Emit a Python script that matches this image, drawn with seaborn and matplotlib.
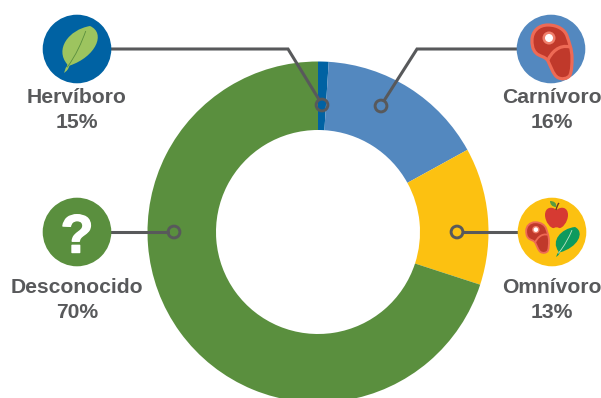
import matplotlib
matplotlib.use("Agg")
import matplotlib.pyplot as plt
import matplotlib.patheffects as pe
from matplotlib.patches import Circle, PathPatch
from matplotlib.path import Path
from matplotlib.transforms import Affine2D
import pandas as pd
import seaborn as sns

# Diet groups: share of the ring and the captions printed beside each icon
groups = ["Hervíboro", "Carnívoro", "Omnívoro", "Desconocido"]
shares = [1, 16, 13, 70]
captions = ["15%", "16%", "13%", "70%"]
colors = ["#0062A3", "#5388BF", "#FCC111", "#5A8F3E"]

GREY = "#58595B"
M, L, C, Z = Path.MOVETO, Path.LINETO, Path.CURVE4, Path.CLOSEPOLY

sns.set_theme(style="white")
plt.rcParams["font.family"] = ["Liberation Sans", "DejaVu Sans"]

fig = plt.figure(figsize=(6.01, 3.98), dpi=100, facecolor="white")
ax = fig.add_axes([0, 0, 1, 1])

# Donut, running clockwise from twelve o'clock (the y axis points down)
center = (318, 232)
wedges, _ = ax.pie(shares, colors=colors, center=center, radius=170.5,
                   startangle=-90, counterclock=True, frame=True,
                   wedgeprops={"width": 68.5, "linewidth": 0})
ax.set_xlim(0, 601)
ax.set_ylim(398, 0)
ax.set_aspect("equal")
ax.axis("off")


def shape(verts, codes, fc, ec="none", lw=0.0, tf=None, z=5):
    p = Path(verts, codes)
    if tf is not None:
        p = p.transformed(tf)
    ax.add_patch(PathPatch(p, facecolor=fc, edgecolor=ec, linewidth=lw, zorder=z))


def steak(cx, cy, s):
    """Cut of meat with marbling line; (cx, cy) is its middle in pixels."""
    tf = Affine2D().scale(s).translate(cx, cy)
    outline = [(-3, -25), (7, -25), (14, -20), (16, -14), (18, -8), (21, -1), (21, 8),
               (21, 14), (21, 20), (19, 25), (17, 29), (10, 30), (6, 27),
               (2, 24), (0, 17), (-3, 11), (-6, 6), (-11, 7), (-15, 3),
               (-19, -1), (-19, -6), (-19, -10), (-19, -18), (-13, -25), (-3, -25), (-3, -25)]
    codes = [M] + [C] * 24 + [Z]
    shape(outline, codes, "#C0392B", "#EE6A55", 2.3 * s, tf, 6)
    shape([(-3, 10), (0, 3), (8, -6), (19, -3)], [M, C, C, C], "none", "#EE6A55", 2.3 * s, tf, 7)
    dot = tf.transform((-2, -12))
    ax.add_patch(Circle(dot, 6.5 * s, fc="#F0806C", ec="none", zorder=7))
    ax.add_patch(Circle(dot, 4 * s, fc="white", ec="none", zorder=8))


def leaf(base, tip, fat, fc, vein):
    """Leaf drawn from stem foot to tip, given in pixels."""
    bx, by = base
    tx, ty = tip
    dx, dy = tx - bx, ty - by
    nx, ny = -dy, dx
    pt = lambda a, b: (bx + a * dx + b * nx * fat, by + a * dy + b * ny * fat)
    verts = [pt(0, 0), pt(.10, -.03), pt(.14, -.02), pt(.17, -.04),
             pt(.30, -.62), pt(.75, -.52), pt(1, 0),
             pt(1.03, .55), pt(.55, .62), pt(.17, .04),
             pt(.10, .05), pt(.06, .04), pt(0, 0), pt(0, 0)]
    shape(verts, [M, L, L, L, C, C, C, C, C, C, L, L, L, Z], fc, z=6)
    shape([pt(.12, 0), pt(.4, .06), pt(.65, .02), pt(.88, -.04)], [M, C, C, C],
          "none", vein, 0.6, z=7)


# Icon discs behind the leader ends
discs = [(77, 49), (551, 49), (552, 232), (77, 232)]

# Leader lines from each icon into the ring, ending on an open marker
leaders = [[(105, 49), (288, 49), (319, 99.5)],
           [(525, 49), (417, 49), (384.5, 100)],
           [(463, 232), (530, 232)],
           [(105, 232), (167.5, 232)]]
for pts in leaders:
    xs, ys = zip(*pts)
    ax.plot(xs, ys, color=GREY, lw=2.2, solid_joinstyle="miter", zorder=3)

rings = pd.DataFrame({"x": [322, 381, 457, 174], "y": [105, 106, 232, 232]})
sns.scatterplot(data=rings, x="x", y="y", s=72, facecolor="none", edgecolor=GREY,
                linewidth=2.1, ax=ax, zorder=4, legend=False)
ax.set_xlim(0, 601)
ax.set_ylim(398, 0)

for (x, y), col in zip(discs, colors):
    ax.add_patch(Circle((x, y), 34.3, fc=col, ec="none", zorder=5))

# Herbivore: a single light green leaf
leaf((64, 73), (90, 26), 0.6, "#9DC45F", "#5A8F3E")

# Carnivore: large cut of meat
steak(551, 50, 1.0)

# Omnivore: apple, meat and leaf together
shape([(556.5, 210), (552, 206), (545, 207), (545, 215),
       (545, 222), (551, 229), (554, 228),
       (556, 227), (557, 227), (559, 228),
       (562, 229), (568, 222), (568, 215),
       (568, 207), (561, 206), (556.5, 210), (556.5, 210)],
      [M] + [C] * 15 + [Z], "#D63A32", z=6)
shape([(556, 210), (557, 206), (558, 204), (559, 203)], [M, C, C, C], "none", "#6B3A1E", 1.0, z=7)
shape([(556, 207), (552, 207), (550, 204), (550, 201),
       (554, 201), (557, 203), (556, 207), (556, 207)],
      [M, C, C, C, C, C, C, Z], "#5A9A3E", z=7)
steak(537, 236.5, 0.57)
leaf((556, 257), (575, 227), 0.6, "#0E9A5E", "#BFE3C8")

# Unknown: bold question mark
ax.text(77, 233, "?", color="white", fontsize=39, fontweight="bold",
        ha="center", va="center_baseline", zorder=6,
        path_effects=[pe.withStroke(linewidth=1.0, foreground="white")])

# Captions under the icons
label_xy = [(77, 96), (552, 96), (552, 286), (77, 286)]
for name, pct, (x, y) in zip(groups, captions, label_xy):
    ax.text(x, y + 1.5, name, color=GREY, fontsize=15.2, fontweight="bold",
            ha="center", va="center")
    ax.text(x, y + 27, pct, color=GREY, fontsize=15.2, fontweight="bold",
            ha="center", va="center")

fig.savefig("out.png", dpi=100, facecolor="white")
